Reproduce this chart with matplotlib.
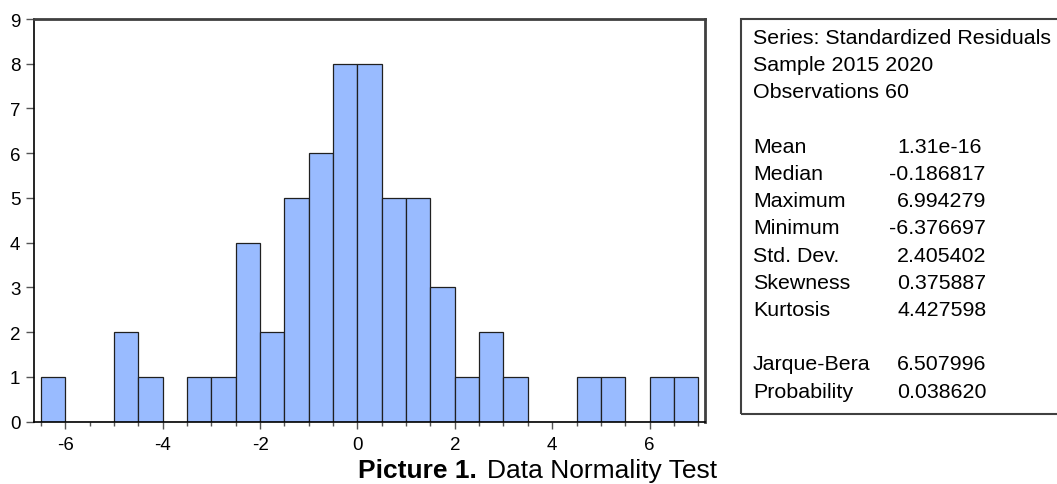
import matplotlib
matplotlib.use("Agg")
import matplotlib.pyplot as plt
from matplotlib.patches import Rectangle
from matplotlib.ticker import MultipleLocator

bin_edges = [-6.5, -6.0, -5.5, -5.0, -4.5, -4.0, -3.5, -3.0, -2.5, -2.0, -1.5, -1.0,
             -0.5, 0.0, 0.5, 1.0, 1.5, 2.0, 2.5, 3.0, 3.5, 4.0, 4.5, 5.0, 5.5, 6.0, 6.5, 7.0]
counts = [1, 0, 0, 2, 1, 0, 1, 1, 4, 2, 5, 6, 8, 8, 5, 5, 3, 1, 2, 1, 0, 0, 1, 1, 0, 1, 1]

stat_header = ["Series: Standardized Residuals", "Sample 2015 2020", "Observations 60"]
stat_names = ["Mean", "Median", "Maximum", "Minimum", "Std. Dev.", "Skewness", "Kurtosis"]
stat_values = ["1.31e-16", "-0.186817", "6.994279", "-6.376697", "2.405402", "0.375887", "4.427598"]
test_names = ["Jarque-Bera", "Probability"]
test_values = ["6.507996", "0.038620"]

plt.rcParams['font.family'] = ['Liberation Sans', 'DejaVu Sans']
plt.rcParams['axes.unicode_minus'] = False

W, H = 1057, 485
fig = plt.figure(figsize=(W / 100, H / 100), dpi=100)
ax = fig.add_axes([34.3 / W, 1 - 422.7 / H, (705 - 34.3) / W, (422.7 - 20) / H])

lefts = bin_edges[:-1]
widths = [b - a for a, b in zip(bin_edges[:-1], bin_edges[1:])]
ax.bar(lefts, counts, width=widths, align='edge', color='#99bbff',
       edgecolor='#202020', linewidth=0.9)

ax.set_xlim(-6.64, 7.14)
ax.set_ylim(0, 9)
ax.set_yticks(range(0, 10))
ax.set_xticks([-6, -4, -2, 0, 2, 4, 6])
ax.xaxis.set_minor_locator(MultipleLocator(0.5))
ax.tick_params(axis='y', direction='out', length=6, width=1, color='#555555',
               labelsize=13.5, pad=4)
ax.tick_params(axis='x', which='major', direction='out', length=5, width=1,
               color='#555555', labelsize=13.5, pad=5)
ax.tick_params(axis='x', which='minor', direction='out', length=3, width=1,
               color='#555555')
for s in ['left', 'bottom']:
    ax.spines[s].set_color('black')
    ax.spines[s].set_linewidth(1.2)
for s in ['top', 'right']:
    ax.spines[s].set_color('#404040')
    ax.spines[s].set_linewidth(2)

# statistics box
box = Rectangle((740.7 / W, 1 - 415 / H), (W + 20 - 740.7) / W, (415 - 20) / H,
                transform=fig.transFigure, fill=False, edgecolor='#404040',
                linewidth=1.5, clip_on=False)
fig.patches.append(box)

fs = 15.4
x_name = 753 / W
x_val = 897 / W
y0 = 38.5
step = 27.2
for i, t in enumerate(stat_header):
    y = y0 + i * step
    fig.text(x_name, 1 - y / H, t, fontsize=fs, va='center', ha='left')
for i, (n, v) in enumerate(zip(stat_names, stat_values)):
    y = y0 + (i + 4) * step
    fig.text(x_name, 1 - y / H, n, fontsize=fs, va='center', ha='left')
    xv = x_val - (8.5 / W if v.startswith('-') else 0)
    fig.text(xv, 1 - y / H, v, fontsize=fs, va='center', ha='left')
for i, (n, v) in enumerate(zip(test_names, test_values)):
    y = y0 + (i + 12) * step
    fig.text(x_name, 1 - y / H, n, fontsize=fs, va='center', ha='left')
    fig.text(x_val, 1 - y / H, v, fontsize=fs, va='center', ha='left')

# caption
fig.text(358 / W, 1 - 478 / H, "Picture 1.", fontsize=19, fontweight='bold',
         va='baseline', ha='left')
fig.text(487 / W, 1 - 478 / H, "Data Normality Test", fontsize=19,
         va='baseline', ha='left')

fig.savefig("out.png", dpi=100)
